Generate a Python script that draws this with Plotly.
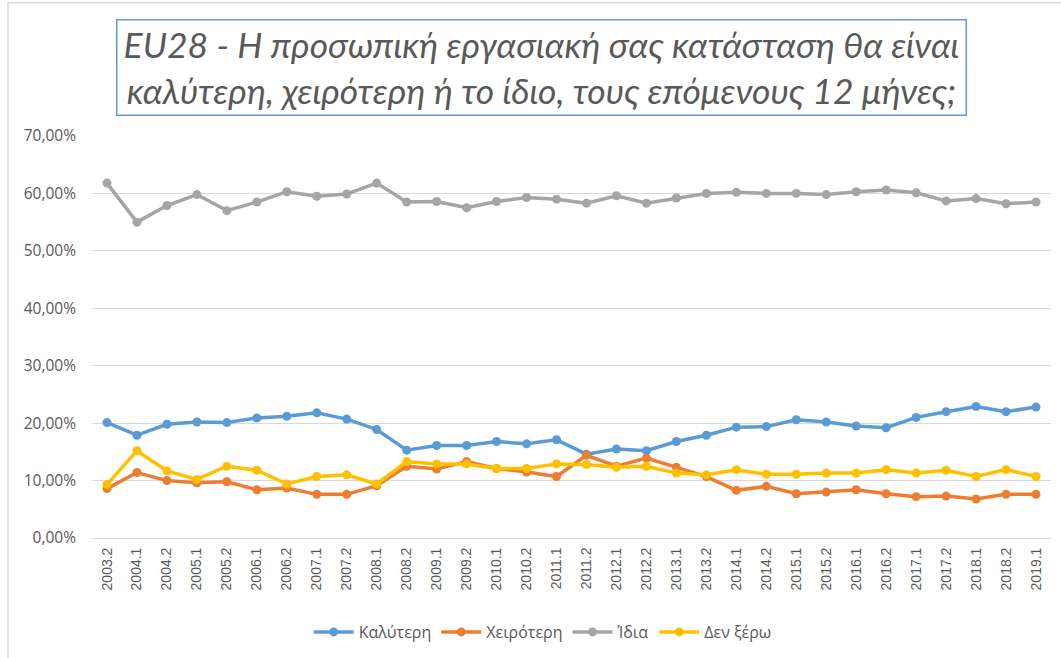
import plotly.graph_objects as go

periods = ["2003.2", "2004.1", "2004.2", "2005.1", "2005.2", "2006.1", "2006.2", "2007.1",
           "2007.2", "2008.1", "2008.2", "2009.1", "2009.2", "2010.1", "2010.2", "2011.1",
           "2011.2", "2012.1", "2012.2", "2013.1", "2013.2", "2014.1", "2014.2", "2015.1",
           "2015.2", "2016.1", "2016.2", "2017.1", "2017.2", "2018.1", "2018.2", "2019.1"]

better = [20.1, 17.9, 19.8, 20.2, 20.1, 20.9, 21.2, 21.8, 20.7, 18.9, 15.3, 16.1, 16.1, 16.8, 16.4, 17.1,
          14.6, 15.5, 15.2, 16.8, 17.9, 19.3, 19.4, 20.6, 20.2, 19.5, 19.2, 21.0, 22.0, 22.9, 22.0, 22.8]
worse = [8.6, 11.4, 10.0, 9.6, 9.8, 8.4, 8.7, 7.6, 7.6, 9.1, 12.5, 12.0, 13.3, 12.1, 11.5, 10.7,
         14.4, 12.5, 13.9, 12.3, 10.7, 8.3, 9.0, 7.7, 8.0, 8.4, 7.7, 7.2, 7.3, 6.8, 7.6, 7.6]
same = [61.8, 55.0, 57.9, 59.8, 57.0, 58.5, 60.3, 59.5, 59.9, 61.8, 58.5, 58.6, 57.5, 58.6, 59.3, 59.0,
        58.3, 59.6, 58.3, 59.2, 60.0, 60.2, 60.0, 60.0, 59.8, 60.3, 60.6, 60.1, 58.7, 59.1, 58.2, 58.5]
dontknow = [9.3, 15.2, 11.7, 10.2, 12.5, 11.8, 9.4, 10.7, 11.0, 9.4, 13.3, 12.9, 12.9, 12.1, 12.1, 12.9,
            12.8, 12.3, 12.5, 11.3, 11.0, 11.9, 11.1, 11.1, 11.3, 11.3, 11.9, 11.3, 11.8, 10.7, 11.9, 10.7]

series_names = ["Καλύτερη", "Χειρότερη", "Ίδια", "Δεν ξέρω"]
series_values = [better, worse, same, dontknow]
colors = ["#5B9BD5", "#ED7D31", "#A5A5A5", "#FFC000"]

fig = go.Figure()
for name, vals, col in zip(series_names, series_values, colors):
    fig.add_trace(go.Scatter(
        x=periods, y=[v / 100 for v in vals], name=name, mode="lines+markers",
        line=dict(color=col, width=3.5), marker=dict(color=col, size=9),
    ))

L, R, T, B = 92, 10, 136, 119
W, H = 1061, 658
pw = W - L - R
ph = H - T - B

def px_x(p):
    return (p - L) / pw

def px_y(p):
    return (H - B - p) / ph

fig.update_layout(
    width=W, height=H,
    margin=dict(l=L, r=R, t=T, b=B),
    paper_bgcolor="white", plot_bgcolor="white",
    separators=",.",
    showlegend=True,
    legend=dict(orientation="h", x=0.47, xanchor="center", y=px_y(632), yanchor="middle",
                font=dict(family="Open Sans, sans-serif", size=16, color="#595959"),
                itemwidth=40, tracegroupgap=0),
    xaxis=dict(type="category", range=[-0.5, 31.5], tickangle=-90,
               showgrid=False, showline=True, linecolor="#D9D9D9", linewidth=1,
               ticks="", ticklabelstandoff=3,
               tickfont=dict(family="Liberation Sans, Arial, sans-serif", size=14, color="#595959")),
    yaxis=dict(range=[0, 0.7], dtick=0.1, tickformat=".2%", showgrid=True, gridcolor="#D9D9D9",
               gridwidth=1, zeroline=False, showline=False, ticks="", ticklabelstandoff=15,
               tickfont=dict(family="Open Sans, sans-serif", size=15.5, color="#595959")),
    annotations=[dict(
        text="EU28 - Η προσωπική εργασιακή σας κατάσταση θα είναι<br>καλύτερη, χειρότερη ή το ίδιο, τους επόμενους 12 μήνες;",
        xref="paper", yref="paper", x=px_x(541.5), y=px_y(67.5), xanchor="center", yanchor="middle",
        showarrow=False, align="center",
        font=dict(family="Lato, Open Sans, sans-serif", size=35.5, color="#595959", style="italic"),
        bordercolor="#5B9BD5", borderwidth=1.5, borderpad=3, bgcolor="white",
        width=842, height=88,
    )],
    shapes=[dict(type="rect", xref="paper", yref="paper",
                 x0=px_x(8), x1=px_x(1070), y0=px_y(670), y1=px_y(2.5),
                 line=dict(color="#D9D9D9", width=1.5), fillcolor="rgba(0,0,0,0)", layer="below")],
)

fig.write_html("out.html", config={"displayModeBar": False},
               post_script="document.body.style.margin='0';")
